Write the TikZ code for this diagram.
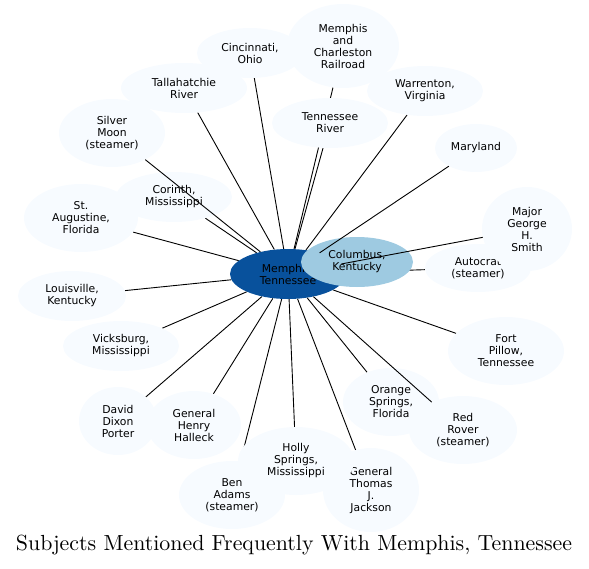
\documentclass[tikz,border=0pt]{standalone}
\usepackage{fontspec}
\usepackage{graphicx}
\newfontfamily\nodefont{DejaVu Sans}
\usetikzlibrary{shapes.geometric}
\definecolor{pale}{HTML}{F7FBFF}
\definecolor{darkb}{HTML}{08519C}
\definecolor{midb}{HTML}{9ECAE1}
\pgfdeclarelayer{bg}
\pgfsetlayers{bg,main}
\tikzset{
  subj/.style={ellipse, fill=pale, draw=none, inner sep=0pt, align=center,
    font=\nodefont\fontsize{10.8}{12}\selectfont},
  link/.style={line width=0.9pt, black},
}
\begin{document}
\begin{tikzpicture}[x=1pt,y=-1pt]
\useasboundingbox (0,0) rectangle (589,568);
% nodes
\node[subj, fill=darkb, minimum width=116pt, minimum height=50pt] (mem) at (288,274) {Memphis,\\Tennessee};
\node[subj, fill=midb, minimum width=112pt, minimum height=50pt] (col) at (357,262) {Columbus,\\Kentucky};
\node[subj, minimum width=106pt, minimum height=48pt] (aut) at (478,268) {Autocrat\\(steamer)};
\node[subj, minimum width=90pt, minimum height=84pt] (maj) at (527,229) {Major\\George\\H.\\Smith};
\node[subj, minimum width=82pt, minimum height=48pt] (mar) at (476,148) {Maryland};
\node[subj, minimum width=116pt, minimum height=50pt] (war) at (425,91) {Warrenton,\\Virginia};
\node[subj, minimum width=106pt, minimum height=50pt] (cin) at (250,53) {Cincinnati,\\Ohio};
\node[subj, minimum width=112pt, minimum height=84pt] (mcr) at (343,46) {Memphis\\and\\Charleston\\Railroad};
\node[subj, minimum width=116pt, minimum height=50pt] (ten) at (330,123) {Tennessee\\River};
\node[subj, minimum width=126pt, minimum height=50pt] (tal) at (184,88) {Tallahatchie\\River};
\node[subj, minimum width=106pt, minimum height=68pt] (sil) at (112,133) {Silver\\Moon\\(steamer)};
\node[subj, minimum width=114pt, minimum height=68pt] (aug) at (81,218) {St.\\Augustine,\\Florida};
\node[subj, minimum width=116pt, minimum height=50pt] (cor) at (174,197) {Corinth,\\Mississippi};
\node[subj, minimum width=108pt, minimum height=50pt] (lou) at (72,296) {Louisville,\\Kentucky};
\node[subj, minimum width=116pt, minimum height=50pt] (vic) at (121,346) {Vicksburg,\\Mississippi};
\node[subj, minimum width=78pt, minimum height=68pt] (por) at (118,421) {David\\Dixon\\Porter};
\node[subj, minimum width=94pt, minimum height=68pt] (hal) at (194,425) {General\\Henry\\Halleck};
\node[subj, minimum width=106pt, minimum height=68pt] (ben) at (232,495) {Ben\\Adams\\(steamer)};
\node[subj, minimum width=96pt, minimum height=84pt] (jac) at (371,490) {General\\Thomas\\J.\\Jackson};
\node[subj, minimum width=116pt, minimum height=68pt] (hol) at (296,461) {Holly\\Springs,\\Mississippi};
\node[subj, minimum width=96pt, minimum height=68pt] (ora) at (391,402) {Orange\\Springs,\\Florida};
\node[subj, minimum width=108pt, minimum height=68pt] (red) at (463,430) {Red\\Rover\\(steamer)};
\node[subj, minimum width=116pt, minimum height=68pt] (for) at (506,351) {Fort\\Pillow,\\Tennessee};
% edges under nodes
\begin{pgfonlayer}{bg}
\foreach \t in {col,aut,war,cin,mcr,ten,tal,aug,cor,lou,vic,por,hal,ben,jac,hol,ora,for}
  \draw[link] (mem) -- (\t);
\end{pgfonlayer}
% edges over nodes
\foreach \t in {sil,mar,maj,red}
  \draw[link] (mem) -- (\t);
% title
\node (title) at (294,545) {\resizebox{556pt}{!}{Subjects Mentioned Frequently With Memphis, Tennessee}};
\end{tikzpicture}
\end{document}
